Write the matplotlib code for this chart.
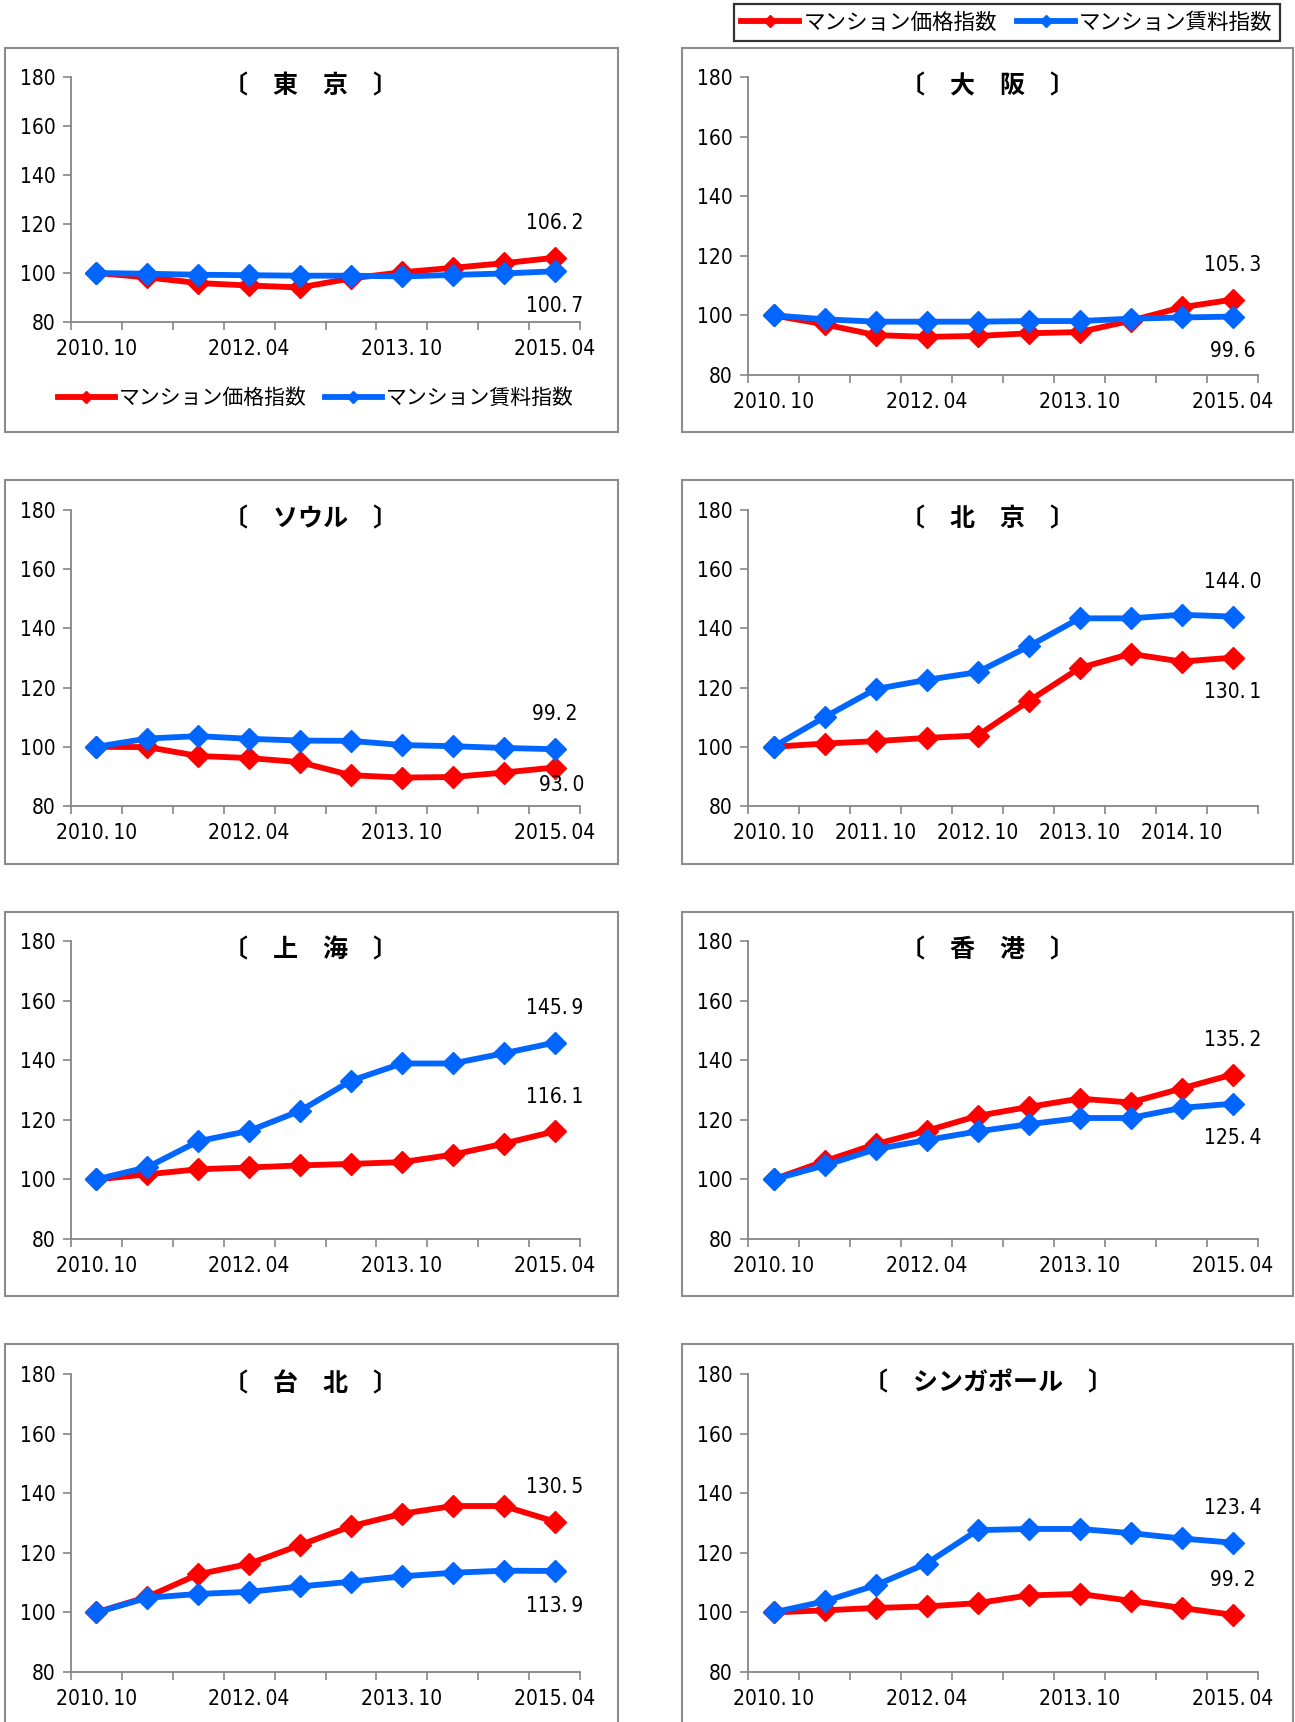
import matplotlib
matplotlib.use('Agg')
import matplotlib.pyplot as plt
from matplotlib.lines import Line2D
from matplotlib.patches import Rectangle
from matplotlib.font_manager import FontProperties

plt.rcParams['font.family'] = ['Noto Sans CJK JP', 'DejaVu Sans']
NUM_FP = FontProperties(family='DejaVu Sans', stretch='condensed', size=15)

# semi-annual periods (x categories)
periods = ['2010.10', '2011.04', '2011.10', '2012.04', '2012.10',
           '2013.04', '2013.10', '2014.04', '2014.10', '2015.04']
label_idx = [0, 3, 6, 9]
label_idx_beijing = [0, 2, 4, 6, 8]

price_name = 'マンション価格指数'
rent_name = 'マンション賃料指数'

tokyo_price = [100, 98.2, 95.9, 94.9, 94.1, 97.8, 100.3, 102.1, 104.0, 106.2]
tokyo_rent = [100, 99.7, 99.3, 99.1, 98.9, 98.9, 98.6, 99.2, 99.8, 100.7]
osaka_price = [100, 97.0, 93.4, 92.8, 93.1, 94.0, 94.4, 98.2, 102.7, 105.3]
osaka_rent = [100, 98.7, 97.9, 97.9, 97.9, 98.1, 98.1, 98.9, 99.3, 99.6]
seoul_price = [100, 99.9, 96.9, 96.2, 94.8, 90.4, 89.6, 89.8, 91.3, 93.0]
seoul_rent = [100, 102.8, 103.6, 102.7, 102.1, 102.0, 100.6, 100.2, 99.6, 99.2]
beijing_price = [100, 101.1, 101.9, 103.0, 103.8, 115.4, 126.6, 131.4, 128.8, 130.1]
beijing_rent = [100, 110.0, 119.5, 122.6, 125.2, 133.9, 143.4, 143.4, 144.6, 144.0]
shanghai_price = [100, 101.7, 103.4, 104.0, 104.7, 105.2, 105.8, 108.3, 112.0, 116.1]
shanghai_rent = [100, 104.1, 112.8, 116.3, 123.0, 133.1, 138.9, 138.9, 142.3, 145.9]
hongkong_price = [100, 106.1, 111.8, 116.3, 121.3, 124.3, 127.1, 125.8, 130.5, 135.2]
hongkong_rent = [100, 104.7, 110.1, 113.2, 116.1, 118.5, 120.6, 120.6, 124.0, 125.4]
taipei_price = [100, 105.2, 112.8, 116.3, 122.6, 128.9, 133.1, 135.7, 135.7, 130.5]
taipei_rent = [100, 104.9, 106.2, 106.9, 108.7, 110.3, 112.1, 113.3, 114.0, 113.9]
singapore_price = [100, 100.7, 101.5, 102.0, 103.1, 105.7, 106.2, 103.9, 101.5, 99.2]
singapore_rent = [100, 103.7, 109.1, 116.4, 127.6, 128.0, 128.0, 126.6, 124.8, 123.4]

RED = '#ff0000'
BLUE = '#0066ff'
GRAY = '#868686'

W, H = 1295, 1722
fig = plt.figure(figsize=(W / 100, H / 100), dpi=100)

# (title, price, rent, label idx, axes rect px [x0, top, x1, bottom], box px, label dir price, label dir rent)
panels = [
    ('〔　東　京　〕', tokyo_price, tokyo_rent, label_idx, (71, 77, 580, 322), (5, 48, 618, 432), 1, -1),
    ('〔　大　阪　〕', osaka_price, osaka_rent, label_idx, (748, 77, 1258, 375), (682, 48, 1293, 432), 1, -1),
    ('〔　ソウル　〕', seoul_price, seoul_rent, label_idx, (71, 510, 580, 806), (5, 480, 618, 864), -0.5, 1),
    ('〔　北　京　〕', beijing_price, beijing_rent, label_idx_beijing, (748, 510, 1258, 806), (682, 480, 1293, 864), -1, 1),
    ('〔　上　海　〕', shanghai_price, shanghai_rent, label_idx, (71, 941, 580, 1239), (5, 912, 618, 1296), 1, 1),
    ('〔　香　港　〕', hongkong_price, hongkong_rent, label_idx, (748, 941, 1258, 1239), (682, 912, 1293, 1296), 1, -1),
    ('〔　台　北　〕', taipei_price, taipei_rent, label_idx, (71, 1374, 580, 1672), (5, 1344, 618, 1730), 1, -1),
    ('〔　シンガポール　〕', singapore_price, singapore_rent, label_idx, (748, 1374, 1258, 1672), (682, 1344, 1293, 1730), 1, 1),
]

x = list(range(len(periods)))


def num_text(s):
    # spaced period like the original's monospaced '.'
    return s.replace('.', '.\u2009')


for title, price, rent, lidx, arect, box, pdir, rdir in panels:
    bx0, btop, bx1, bbot = box
    fig.patches.append(Rectangle((bx0 / W, 1 - bbot / H), (bx1 - bx0) / W, (bbot - btop) / H,
                                 transform=fig.transFigure, fill=False,
                                 edgecolor='#8c8c8c', linewidth=1.5, zorder=0))
    x0, top, x1, bot = arect
    ax = fig.add_axes([x0 / W, 1 - bot / H, (x1 - x0) / W, (bot - top) / H])
    ax.plot(x, price, color=RED, lw=4.2, marker='D', ms=11, zorder=3, clip_on=False)
    ax.plot(x, rent, color=BLUE, lw=4.2, marker='D', ms=11, zorder=4, clip_on=False)

    ax.set_xlim(-0.5, len(periods) - 0.5)
    ax.set_ylim(80, 180)
    ax.set_yticks(range(80, 181, 20))
    ax.set_xticks([i - 0.5 for i in range(len(periods) + 1)])
    ax.set_xticklabels([])
    ax.set_xticks(lidx, minor=True)
    ax.set_xticklabels([num_text(periods[i]) for i in lidx], minor=True)
    ax.tick_params(axis='x', which='major', length=6, width=1.2, color=GRAY, direction='out')
    ax.tick_params(axis='x', which='minor', length=0, pad=12)
    ax.tick_params(axis='y', length=6, width=1.2, color=GRAY, pad=5)
    for lab in ax.get_xticklabels(minor=True) + ax.get_yticklabels():
        lab.set_fontproperties(NUM_FP)
    for s in ['top', 'right']:
        ax.spines[s].set_visible(False)
    for s in ['left', 'bottom']:
        ax.spines[s].set_color(GRAY)
        ax.spines[s].set_linewidth(1.3)
    ax.patch.set_alpha(0)

    ax.annotate(title, xy=(0.47, 1.0), xycoords='axes fraction', xytext=(0, -7),
                textcoords='offset points', ha='center', va='center',
                fontsize=18, fontweight='bold')

    for vals, d in ((price, pdir), (rent, rdir)):
        dx = 5 if abs(d) < 1 else 0
        ax.annotate(num_text(f'{vals[-1]:.1f}'), xy=(x[-1], vals[-1]), xytext=(dx, 25 * d),
                    textcoords='offset points', ha='center', va='center',
                    fontproperties=NUM_FP)

handles = [Line2D([], [], color=RED, lw=4.2, marker='D', ms=6),
           Line2D([], [], color=BLUE, lw=4.2, marker='D', ms=6)]

leg = fig.legend(handles, [price_name, rent_name], loc='upper right',
                 bbox_to_anchor=(1280 / W, 1 - 4 / H), ncol=2, fontsize=15.5,
                 frameon=True, fancybox=False, handlelength=2.7, handletextpad=0.2,
                 columnspacing=0.9, borderpad=0.35, borderaxespad=0)
leg.get_frame().set_edgecolor('black')
leg.get_frame().set_linewidth(1.6)

fig.legend(handles, [price_name, rent_name], loc='center',
           bbox_to_anchor=(316 / W, 1 - 398 / H), ncol=2, fontsize=15,
           frameon=False, handlelength=2.7, handletextpad=0.2, columnspacing=0.9)

fig.savefig('out.png', dpi=100, facecolor='white')
